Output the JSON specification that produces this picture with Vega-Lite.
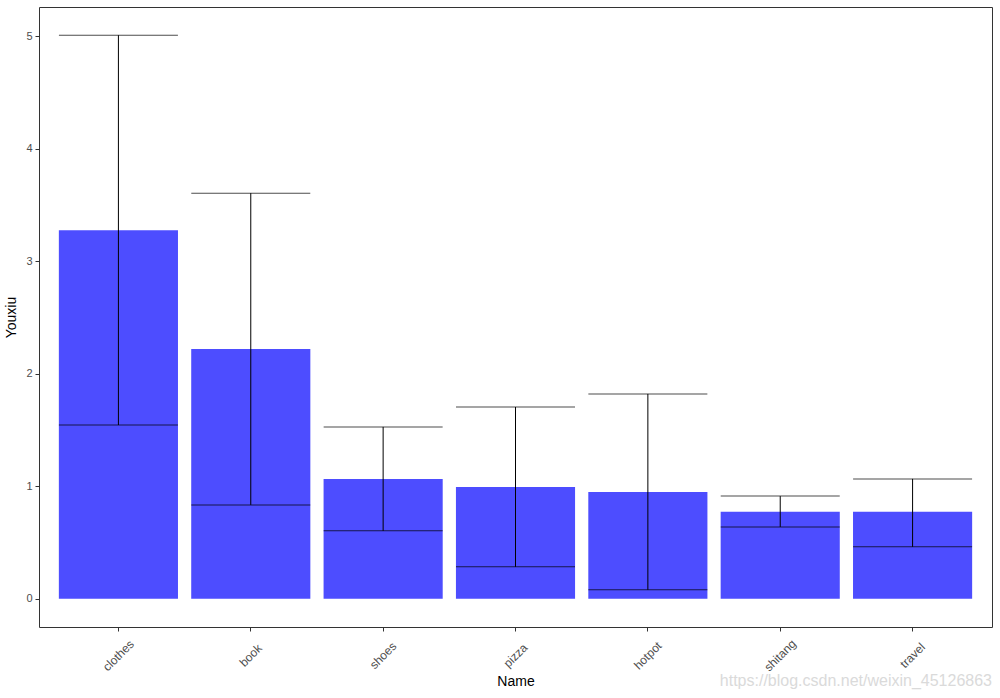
{
  "$schema": "https://vega.github.io/schema/vega-lite/v6.json",
  "width": 953,
  "height": 620,
  "autosize": {"type": "none"},
  "padding": {"left": 39, "top": 7, "right": 8, "bottom": 71},
  "background": "white",
  "title": {
    "text": "https://blog.csdn.net/weixin_45126863",
    "orient": "bottom",
    "anchor": "end",
    "color": "#DADADA",
    "fontSize": 16,
    "font": "Liberation Sans",
    "fontWeight": "normal",
    "offset": -16
  },
  "config": {
    "view": {"stroke": "#333333", "strokeWidth": 1},
    "axis": {
      "grid": false,
      "domain": false,
      "tickColor": "#333333",
      "tickSize": 4,
      "labelColor": "#4D4D4D",
      "labelFont": "Liberation Sans",
      "labelFontSize": 11,
      "titleFont": "Liberation Sans",
      "titleFontSize": 14,
      "titleFontWeight": "normal",
      "titleColor": "black"
    }
  },
  "data": {
    "values": [
      {"Name": "clothes", "Youxiu": 3.277, "low": 1.545, "high": 5.01},
      {"Name": "book", "Youxiu": 2.22, "low": 0.835, "high": 3.606},
      {"Name": "shoes", "Youxiu": 1.066, "low": 0.604, "high": 1.528},
      {"Name": "pizza", "Youxiu": 0.995, "low": 0.284, "high": 1.705},
      {"Name": "hotpot", "Youxiu": 0.95, "low": 0.08, "high": 1.821},
      {"Name": "shitang", "Youxiu": 0.773, "low": 0.639, "high": 0.913},
      {"Name": "travel", "Youxiu": 0.773, "low": 0.462, "high": 1.066}
    ]
  },
  "encoding": {
    "x": {
      "field": "Name",
      "type": "nominal",
      "sort": null,
      "scale": {"paddingInner": 0.1, "paddingOuter": 0.15},
      "axis": {
        "title": "Name",
        "labelAngle": -45,
        "labelAlign": "center",
        "labelBaseline": "middle",
        "labelPadding": 24,
        "labelFontSize": 12,
        "titlePadding": 2
      }
    }
  },
  "layer": [
    {
      "mark": {"type": "bar", "color": "#4D4DFF"},
      "encoding": {
        "y": {
          "field": "Youxiu",
          "type": "quantitative",
          "scale": {"domain": [-0.2505, 5.2605], "nice": false, "zero": false},
          "axis": {"title": "Youxiu", "values": [0, 1, 2, 3, 4, 5], "format": "d", "labelPadding": 3, "titlePadding": 7}
        }
      }
    },
    {
      "mark": {"type": "rule", "color": "black", "strokeWidth": 1},
      "encoding": {
        "y": {"field": "low", "type": "quantitative"},
        "y2": {"field": "high"}
      }
    },
    {
      "mark": {"type": "tick", "color": "black", "thickness": 1, "size": 119, "orient": "horizontal"},
      "encoding": {"y": {"field": "low", "type": "quantitative"}}
    },
    {
      "mark": {"type": "tick", "color": "black", "thickness": 1, "size": 119, "orient": "horizontal"},
      "encoding": {"y": {"field": "high", "type": "quantitative"}}
    }
  ]
}
